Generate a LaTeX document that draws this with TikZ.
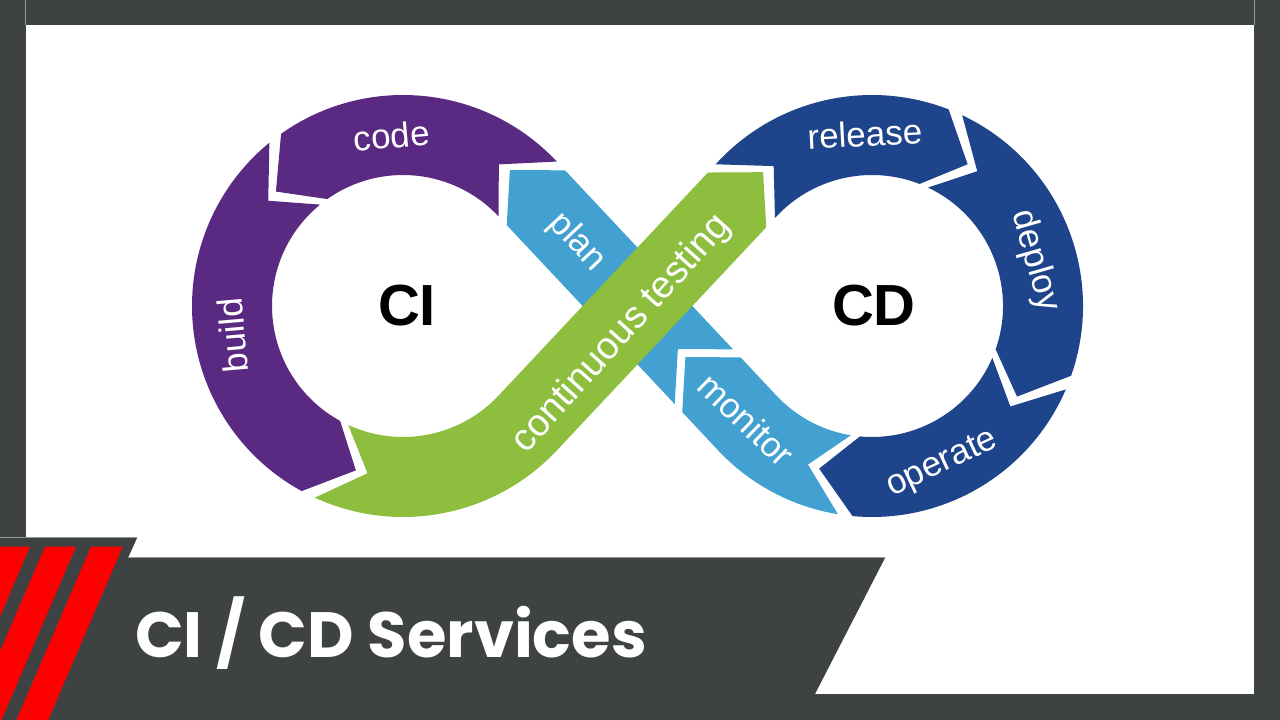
\documentclass[tikz,border=0pt]{standalone}
\usepackage{fontspec}
\setmainfont{Liberation Sans}
\newfontfamily\titlefont{Poppins}
\usetikzlibrary{calc}
\definecolor{bg}{RGB}{63,66,67}
\definecolor{cipurple}{RGB}{90,42,130}
\definecolor{plblue}{RGB}{66,161,208}
\definecolor{ctgreen}{RGB}{141,190,62}
\definecolor{cdblue}{RGB}{30,68,139}
\definecolor{stripered}{RGB}{255,0,0}
\definecolor{edgegray}{RGB}{150,150,150}
% ring segment: #1 centre, #2 tail angle, #3 head angle, #4 signed chevron depth (deg), #5 colour
\newcommand\ringseg[5]{%
  \fill[#5] ($(#1)+(#2:211)$) arc[start angle=#2, end angle=#3, radius=211]
    -- ($(#1)+({#3+(#4)}:171)$) -- ($(#1)+(#3:131)$)
    arc[start angle=#3, end angle=#2, radius=131]
    -- ($(#1)+({#2+(#4)}:171)$) -- cycle;}
\begin{document}
\begin{tikzpicture}[x=1pt,y=1pt,
  lbl/.style={text=white, font=\fontsize{35}{35}\selectfont, inner sep=0pt, text height=18.2pt, text depth=0pt},
  lblbig/.style={text=white, font=\fontsize{38}{38}\selectfont, inner sep=0pt, text height=19.7pt, text depth=0pt},
  big/.style={text=black, font=\bfseries\fontsize{58}{58}\selectfont, inner sep=0pt, text height=41.5pt, text depth=0pt},
  ttl/.style={text=white, font=\titlefont\bfseries\fontsize{64}{64}\selectfont, inner sep=0pt, anchor=base west}]
\useasboundingbox (0,0) rectangle (1280,720);
\begin{scope}
\clip (0,0) rectangle (1280,720);
\fill[bg] (0,0) rectangle (1280,720);
\fill[white] (26,26) rectangle (1254,695);
\draw[edgegray, line width=1pt] (25.5,695) -- (25.5,720);
\draw[edgegray, line width=1pt] (1254.5,695) -- (1254.5,720);

% centres
\coordinate (C1) at (403,414);
\coordinate (C2) at (872,414);
\coordinate (M) at (637.5,414);

% CI ring
\ringseg{C1}{43.2}{125.3}{12.7}{cipurple}
\ringseg{C1}{129.3}{241.3}{12.7}{cipurple}
% CD ring
\ringseg{C2}{137.8}{68.7}{-12.7}{cdblue}
\ringseg{C2}{64.7}{-19.3}{-12.7}{cdblue}
\ringseg{C2}{-23.3}{-95.3}{-12.7}{cdblue}

% monitor (arc on CD then straight)
\fill[plblue] ($(C2)+(-99.3:211)$) arc[start angle=-99.3, end angle=-136.82, radius=211]
  -- ($(M)+(313.18:108)+(223.18:40)$) -- ($(M)+(313.18:70)$)
  -- ($(M)+(313.18:108)+(43.18:40)$) -- ($(C2)+(-136.82:131)$)
  arc[start angle=-136.82, end angle=-99.3, radius=131]
  -- ($(C2)+(-112:171)$) -- cycle;
% plan (straight)
\fill[plblue] ($(M)+(313.18:97)+(43.18:40)$) -- ($(M)+(133.18:148.5)+(43.18:40)$)
  -- ($(M)+(133.18:186.5)$) -- ($(M)+(133.18:148.5)+(223.18:40)$)
  -- ($(M)+(313.18:97)+(223.18:40)$) -- ($(M)+(313.18:59)$) -- cycle;
% continuous testing (arc on CI then straight)
\fill[ctgreen] ($(C1)+(245.3:211)$) arc[start angle=245.3, end angle=316.82, radius=211]
  -- ($(M)+(46.82:145.5)+(-43.18:40)$) -- ($(M)+(46.82:183.5)$)
  -- ($(M)+(46.82:145.5)+(136.82:40)$) -- ($(C1)+(316.82:131)$)
  arc[start angle=316.82, end angle=245.3, radius=131]
  -- ($(C1)+(258:171)$) -- cycle;

% labels
\node[lbl, rotate=5] (lcode) at (392,581) {code};
\node[lbl, rotate=95] (lbuild) at (236,385) {build};
\node[lbl, rotate=-46.8] (lplan) at (577,478) {plan};
\node[lblbig, rotate=48] (ltest) at (622,386) {continuous testing};
\node[lbl, rotate=-44] (lmon) at (744,298) {monitor};
\node[lbl, rotate=3] (lrel) at (865,583) {release};
\node[lbl, rotate=-74] (ldep) at (1035,459) {deploy};
\node[lbl, rotate=25] (lop) at (942,257) {operate};
\node[big] (ci) at (407,415) {CI};
\node[big] (cd) at (874,415) {CD};

% banner
\fill[bg] (0,182) -- (137,182) -- (128,162) -- (885,162) -- (815,26) -- (801.6,0) -- (0,0) -- cycle;
\draw[edgegray, line width=1pt] (0,182) -- (137,182);
\draw[edgegray, line width=1pt] (128,162) -- (885,162);
% red stripes
\fill[stripered] (91,173.3) -- (122.7,173.3) -- (48.2,0) -- (16.5,0) -- cycle;
\fill[stripered] (45,173.3) -- (76,173.3) -- (1.5,0) -- (-29.5,0) -- cycle;
\fill[stripered] (-1,173.3) -- (30,173.3) -- (-44.5,0) -- (-75.5,0) -- cycle;
\node[ttl] (title) at (135,62) {CI / CD Services};
\end{scope}
\end{tikzpicture}
\end{document}
